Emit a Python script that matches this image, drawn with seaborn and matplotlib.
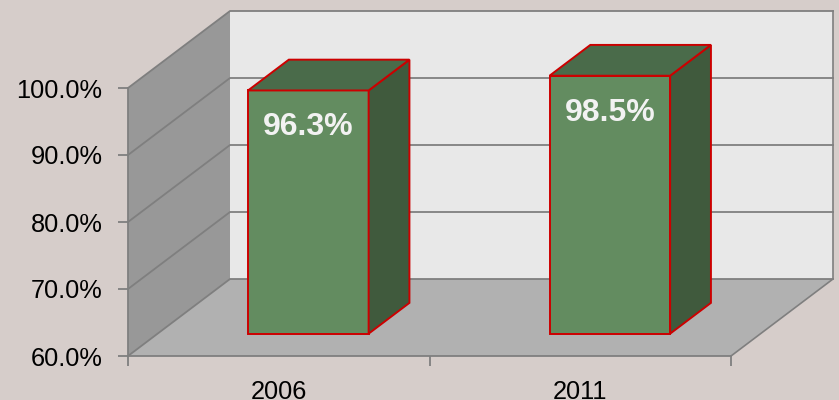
import matplotlib
matplotlib.use("Agg")
import matplotlib.pyplot as plt
import seaborn as sns
import numpy as np
from matplotlib.patches import Polygon

# data
years = ["2006", "2011"]
rates = [96.3, 98.5]
y_ticks = [60, 70, 80, 90, 100]
y_tick_labels = ["60.0%", "70.0%", "80.0%", "90.0%", "100.0%"]

# colours
bg = "#D6CDCA"
back_wall = "#E8E8E8"
side_wall = "#989898"
floor_c = "#B1B1B1"
grid_c = "#7F7F7F"
bar_front = "#638C60"
bar_top = "#4A6B4A"
bar_side = "#405A3D"
bar_edge = "#CC0000"

plt.rcParams["font.family"] = ["Liberation Sans", "DejaVu Sans"]

W, H = 839, 400
fig = plt.figure(figsize=(W / 100, H / 100), dpi=100, facecolor=bg)

# front plane of the box, in pixels
x0_px, x1_px = 128, 731
ytop_px, ybot_px = 88, 356
ymin, ymax = 60, 100
ax = fig.add_axes([x0_px / W, (H - ybot_px) / H, (x1_px - x0_px) / W, (ybot_px - ytop_px) / H])
ax.set_xlim(-0.5, len(years) - 0.5)
ax.set_ylim(ymin, ymax)
ax.patch.set_visible(False)

# depth offset of the whole box (in data units of the front plane)
cat_px = (x1_px - x0_px) / len(years)
val_px = (ybot_px - ytop_px) / (ymax - ymin)
DX = 102 / cat_px
DY = 77 / val_px


def P(x, y, d):
    return (x + d * DX, y + d * DY)


xl, xr = -0.5, len(years) - 0.5
walls = [
    ([P(xl, ymin, 1), P(xr, ymin, 1), P(xr, ymax, 1), P(xl, ymax, 1)], back_wall),
    ([P(xl, ymin, 0), P(xl, ymax, 0), P(xl, ymax, 1), P(xl, ymin, 1)], side_wall),
    ([P(xl, ymin, 0), P(xr, ymin, 0), P(xr, ymin, 1), P(xl, ymin, 1)], floor_c),
]
for pts, c in walls:
    ax.add_patch(Polygon(pts, closed=True, facecolor=c, edgecolor="none", clip_on=False, zorder=0))

# gridlines on side wall and back wall
for v in y_ticks:
    a, b, c = P(xl, v, 0), P(xl, v, 1), P(xr, v, 1)
    ax.plot([a[0], b[0], c[0]], [a[1], b[1], c[1]], color=grid_c, lw=1.3, clip_on=False, zorder=1)
# right edges of floor and back wall
xs, ys = zip(*[P(xr, ymin, 0), P(xr, ymin, 1), P(xr, ymax, 1)])
ax.plot(xs, ys, color=grid_c, lw=1.2, clip_on=False, zorder=1)

for s in ["top", "right"]:
    ax.spines[s].set_visible(False)
for s in ["left", "bottom"]:
    ax.spines[s].set_color(grid_c)
    ax.spines[s].set_linewidth(1.3)

ax.set_yticks(y_ticks)
ax.set_yticklabels(y_tick_labels)
ax.set_xticks(range(len(years)))
ax.set_xticklabels(years)
ax.set_xticks(np.arange(-0.5, len(years), 1.0), minor=True)
ax.tick_params(axis="y", length=7, width=1.3, color=grid_c, labelsize=18.3, pad=11.5)
ax.tick_params(axis="x", which="major", length=0, labelsize=18.3, pad=17)
ax.tick_params(axis="x", which="minor", length=7, width=1.3, color=grid_c)

# bar plane, pushed back into the box
d0, depth = 0.29, 0.40
bx = fig.add_axes([(x0_px + d0 * 102) / W, (H - ybot_px + d0 * 77) / H,
                   (x1_px - x0_px) / W, (ybot_px - ytop_px) / H])
sns.barplot(x=years, y=rates, ax=bx, width=0.4, color=bar_front,
            edgecolor=bar_edge, linewidth=1.4, saturation=1)
bx.set_xlim(-0.5, len(years) - 0.5)
bx.set_ylim(ymin, ymax)
bx.axis("off")

ddx, ddy = depth * DX, depth * DY
for p, v in zip(bx.patches, rates):
    p.set_y(ymin)
    p.set_height(v - ymin)
    p.set_clip_on(False)
    x0 = p.get_x()
    x1 = x0 + p.get_width()
    top = [(x0, v), (x1, v), (x1 + ddx, v + ddy), (x0 + ddx, v + ddy)]
    side = [(x1, ymin), (x1, v), (x1 + ddx, v + ddy), (x1 + ddx, ymin + ddy)]
    bx.add_patch(Polygon(side, closed=True, facecolor=bar_side, edgecolor=bar_edge,
                         lw=1.4, clip_on=False, zorder=1))
    bx.add_patch(Polygon(top, closed=True, facecolor=bar_top, edgecolor=bar_edge,
                         lw=1.4, clip_on=False, zorder=1))
    bx.text((x0 + x1) / 2, v - 5.5, f"{v:.1f}%", ha="center", va="center",
            color="#F2F2F2", fontsize=23, fontweight="bold", zorder=3)

fig.savefig("out.png", dpi=100, facecolor=bg)
